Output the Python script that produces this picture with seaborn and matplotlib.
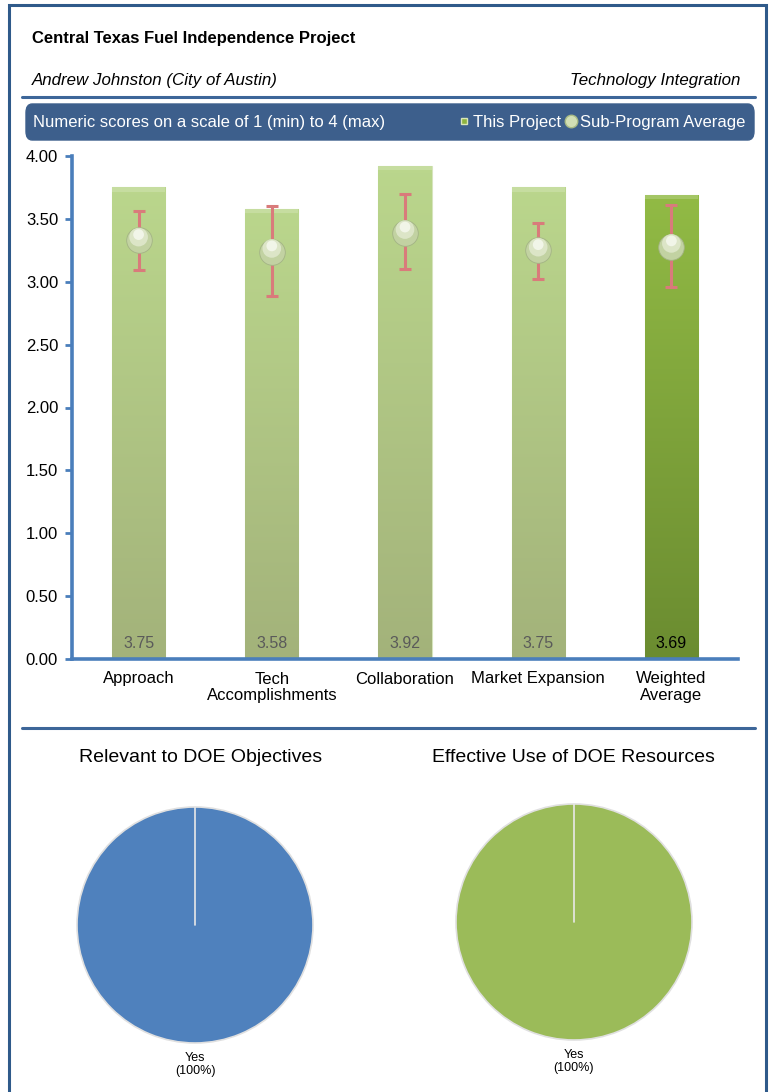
import numpy as np
import pandas as pd
import matplotlib
matplotlib.use("Agg")
import matplotlib.pyplot as plt
import seaborn as sns
from matplotlib.patches import FancyBboxPatch, Rectangle
from matplotlib.lines import Line2D

# ---------------- data ----------------
categories = ["Approach", "Tech\nAccomplishments", "Collaboration", "Market Expansion", "Weighted\nAverage"]
project_scores = [3.75, 3.58, 3.92, 3.75, 3.69]
subprogram_avg = [3.33, 3.24, 3.39, 3.25, 3.28]
subprogram_high = [3.56, 3.60, 3.70, 3.47, 3.61]
subprogram_low = [3.09, 2.89, 3.10, 3.02, 2.96]
y_ticks = [0.0, 0.5, 1.0, 1.5, 2.0, 2.5, 3.0, 3.5, 4.0]
pie1_labels = ["Yes\n(100%)"]
pie1_values = [100]
pie2_labels = ["Yes\n(100%)"]
pie2_values = [100]

title = "Central Texas Fuel Independence Project"
presenter = "Andrew Johnston (City of Austin)"
program = "Technology Integration"
banner = "Numeric scores on a scale of 1 (min) to 4 (max)"

sns.set_theme(style="white")
plt.rcParams["font.family"] = ["Liberation Sans", "DejaVu Sans"]

W, H = 771, 1092
fig = plt.figure(figsize=(W / 100, H / 100), dpi=100)

def fx(px):
    return px / W

def fy(py):
    return 1 - py / H

BLUE = "#4a7ebb"
DARK = "#2f5a8a"

# outer frame (bottom edge runs off the page)
fig.patches.append(Rectangle((fx(9), fy(1110)), fx(757), fy(5) - fy(1110),
                             transform=fig.transFigure, fill=False, edgecolor=DARK, lw=2.2,
                             clip_on=False))

# header
fig.text(fx(32), fy(38), title, fontsize=12, fontweight="bold", va="center", ha="left", color="black")
fig.text(fx(32), fy(80), presenter, fontsize=12.2, style="italic", va="center", ha="left", color="black")
fig.text(fx(740), fy(80), program, fontsize=12.2, style="italic", va="center", ha="right", color="black")
fig.add_artist(Line2D([fx(22), fx(755)], [fy(97), fy(97)], transform=fig.transFigure, color="#3d6699", lw=2.2))

# banner
fig.patches.append(FancyBboxPatch((fx(26), fy(140)), fx(728), fy(104) - fy(140),
                                  boxstyle="round,pad=0,rounding_size=0.008",
                                  transform=fig.transFigure, facecolor="#3d5f8c", edgecolor="#3d5f8c"))
fig.text(fx(33), fy(122), banner, fontsize=12, color="white", va="center", ha="left")
leg_handles = [Line2D([], [], marker="s", ls="none", markersize=5, markerfacecolor="#8db33f", markeredgecolor="#d9e6b8"),
               Line2D([], [], marker="o", ls="none", markersize=9, markerfacecolor="#d2dfb5", markeredgecolor="#a9bb86")]
fig.legend(leg_handles, ["This Project", "Sub-Program Average"], loc="center right",
           bbox_to_anchor=(fx(754), fy(122)), ncol=2, frameon=False, fontsize=12,
           labelcolor="white", handlelength=0.6, handletextpad=0.25, columnspacing=0.3, borderpad=0)

# ---------------- bar chart ----------------
ax = fig.add_axes([fx(72), fy(659), fx(738) - fx(72), fy(156) - fy(659)])
df = pd.DataFrame({"cat": categories, "score": project_scores})
bar_colors = ["#b7d18a", "#b7d18a", "#b7d18a", "#b7d18a", "#8cb43f"]
sns.barplot(data=df, x="cat", y="score", hue="cat", palette=bar_colors, width=0.4,
            legend=False, ax=ax, edgecolor="#d6e4bd", linewidth=0.8, saturation=1)

# vertical gradient clipped to each bar (light at top, darker at bottom)
for i, p in enumerate(ax.patches):
    x0, w = p.get_x(), p.get_width()
    h = p.get_height()
    if i < 4:
        top, bot = np.array([0.73, 0.84, 0.55]), np.array([0.64, 0.70, 0.48])
    else:
        top, bot = np.array([0.57, 0.73, 0.27]), np.array([0.42, 0.55, 0.19])
    grad = np.linspace(0, 1, 64)[:, None, None]
    img = top * (1 - grad) + bot * grad
    im = ax.imshow(img, extent=(x0, x0 + w, 0, h), origin="upper", aspect="auto",
                   zorder=2, interpolation="bilinear")
    im.set_clip_path(p)
    ax.add_patch(Rectangle((x0, h - 0.035), w, 0.035, facecolor="white", alpha=0.18, lw=0, zorder=3))

ax.set_xlim(-0.5, 4.5)
ax.set_ylim(0, 4)

xs = np.arange(len(categories))
err_low = np.array(subprogram_avg) - np.array(subprogram_low)
err_high = np.array(subprogram_high) - np.array(subprogram_avg)
ax.errorbar(xs, subprogram_avg, yerr=[err_low, err_high], fmt="none", ecolor="#d97b7b",
            elinewidth=2.2, capsize=4, capthick=2.2, zorder=4)
sns.scatterplot(x=xs, y=subprogram_avg, ax=ax, s=340, color="#c2d2a2", edgecolor="#a3b385",
                linewidth=0.6, zorder=5, legend=False)
sns.scatterplot(x=xs, y=np.array(subprogram_avg) + 0.025, ax=ax, s=180, color="#dfe8cc",
                edgecolor="none", alpha=0.9, zorder=6, legend=False)
sns.scatterplot(x=xs, y=np.array(subprogram_avg) + 0.045, ax=ax, s=60, color="#f4f7ec",
                edgecolor="none", alpha=0.9, zorder=7, legend=False)

for i, v in enumerate(project_scores):
    ax.text(i, 0.12, f"{v:.2f}", ha="center", va="center", fontsize=11.5,
            color="black" if i == 4 else "#5a5a5a", zorder=8)

ax.set_xlabel("")
ax.set_ylabel("")
ax.set_yticks(y_ticks)
ax.set_yticklabels([f"{t:.2f}" for t in y_ticks], fontsize=12, color="black")
ax.set_xticks(xs)
ax.set_xticklabels(categories, fontsize=12, color="black", linespacing=1.15)
ax.set_xticks(np.arange(-0.5, 5.0, 1.0), minor=True)
ax.tick_params(axis="x", which="major", length=0, pad=9)
ax.tick_params(axis="x", which="minor", length=5, width=2, color=BLUE, direction="out")
ax.tick_params(axis="y", which="major", length=5, width=2, color=BLUE, direction="out", left=True, pad=5)
for s in ["top", "right"]:
    ax.spines[s].set_visible(False)
for s in ["left", "bottom"]:
    ax.spines[s].set_color(BLUE)
    ax.spines[s].set_linewidth(2.6)
ax.set_facecolor("none")

# separator
fig.add_artist(Line2D([fx(22), fx(755)], [fy(728), fy(728)], transform=fig.transFigure, color="#3d6699", lw=2.2))

# ---------------- pies ----------------
def draw_pie(cx, cy, r, values, labels, color, ttl, tx):
    pax = fig.add_axes([fx(cx - r), fy(cy + r), fx(2 * r), fy(cy - r) - fy(cy + r)])
    wedges, texts = pax.pie(values, labels=labels, colors=[color], startangle=90, counterclock=False,
                            labeldistance=1.12,
                            wedgeprops=dict(edgecolor="#e0e0e0", linewidth=1.2),
                            textprops=dict(fontsize=9, color="black", linespacing=1.05))
    for t in texts:
        t.set_ha("center")
        t.set_va("top")
        t.set_position((0, -1.08))
    pax.plot([0, 0], [0, 1], color="#e8e8e8", lw=1.2)
    pax.set_xlim(-1, 1)
    pax.set_ylim(-1, 1)
    pax.set_aspect("auto")
    fig.text(fx(tx), fy(758), ttl, fontsize=14, ha="center", va="center", color="black")

draw_pie(195, 925, 118, pie1_values, pie1_labels, "#4f81bd", "Relevant to DOE Objectives", 201)
draw_pie(574, 922, 118, pie2_values, pie2_labels, "#9bbb59", "Effective Use of DOE Resources", 573)

fig.savefig("out.png", dpi=100, facecolor="white")
